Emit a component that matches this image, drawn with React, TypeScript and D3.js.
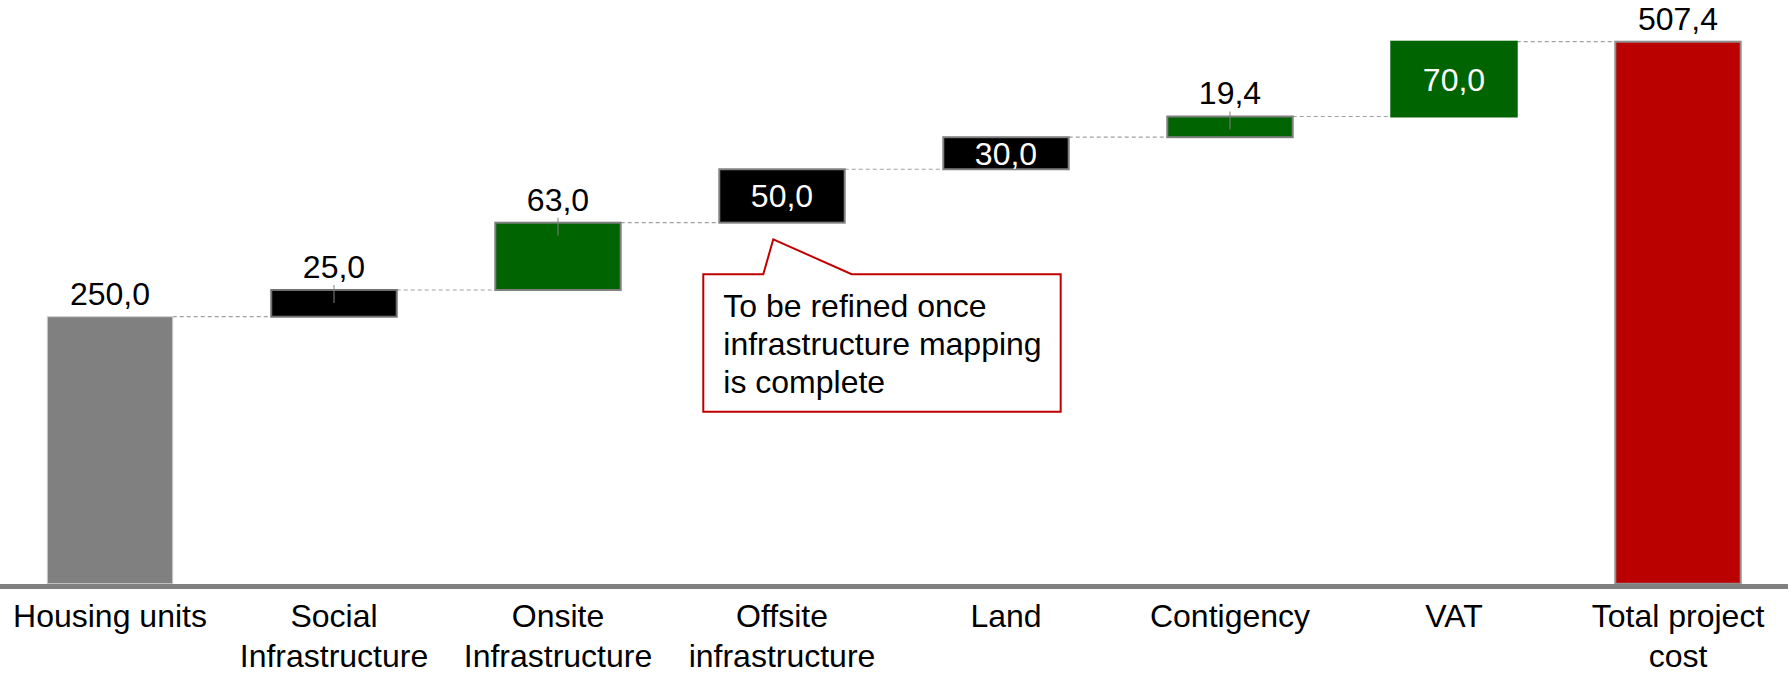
import React from "react";
import * as d3 from "d3";

const categories = [
  "Housing units",
  "Social\nInfrastructure",
  "Onsite\nInfrastructure",
  "Offsite\ninfrastructure",
  "Land",
  "Contigency",
  "VAT",
  "Total project\ncost",
];
const values = [250, 25, 63, 50, 30, 19.4, 70, 507.4];
const kinds = ["total", "delta", "delta", "delta", "delta", "delta", "delta", "total"];
const valueLabels = ["250,0", "25,0", "63,0", "50,0", "30,0", "19,4", "70,0", "507,4"];
const labelInside = [false, false, false, true, true, false, true, false];
const fills = ["#808080", "#000000", "#006400", "#000000", "#000000", "#006400", "#006400", "#BB0000"];
const strokes = ["#d0d0d0", "#707070", "#808080", "#808080", "#808080", "#808080", "#006400", "#909090"];
const calloutLines = ["To be refined once", "infrastructure mapping", "is complete"];
const calloutIndex = 3;

const W = 1792;
const H = 673;
const FONT = "'Liberation Sans', Arial, Helvetica, sans-serif";
const FS = 32;

export default function App() {
  const x = d3
    .scaleBand<string>()
    .domain(categories)
    .range([-2, 1790])
    .paddingInner(0.44)
    .paddingOuter(0.22);
  const baseline = 583.8;
  const y = d3.scaleLinear().domain([0, 507.4]).range([baseline, 41.7]);

  let cum = 0;
  const bars = values.map((v, i) => {
    let lo: number, hi: number;
    if (kinds[i] === "total") {
      lo = 0;
      hi = v;
      cum = v;
    } else {
      lo = cum;
      hi = cum + v;
      cum = hi;
    }
    return { i, lo, hi, cat: categories[i] };
  });

  const bw = x.bandwidth();

  const cb = bars[calloutIndex];
  const cbx = x(cb.cat)!;
  const tipX = cbx + 54;
  const tipY = y(cb.lo) + 16.6;
  const boxL = cbx - 16;
  const boxR = boxL + 357.4;
  const boxT = tipY + 35;
  const boxB = boxT + 137.4;
  const calloutPath = `M${boxL},${boxT} L${tipX - 10},${boxT} L${tipX},${tipY} L${tipX + 78.4},${boxT} L${boxR},${boxT} L${boxR},${boxB} L${boxL},${boxB} Z`;

  return (
    <div style={{ position: "absolute", left: 0, top: 0 }}>
      <svg width={W} height={H} style={{ display: "block", background: "#fff" }} fontFamily={FONT}>
        {bars.slice(0, -1).map((b, k) => {
          const next = bars[k + 1];
          const lvl = b.hi;
          return (
            <line
              key={"c" + k}
              x1={x(b.cat)! + bw}
              x2={x(next.cat)!}
              y1={y(lvl)}
              y2={y(lvl)}
              stroke="#a0a0a0"
              strokeWidth={1.2}
              strokeDasharray="4 3"
            />
          );
        })}
        {bars.map((b) => (
          <rect
            key={"b" + b.i}
            x={x(b.cat)!}
            y={y(b.hi)}
            width={bw}
            height={y(b.lo) - y(b.hi)}
            fill={fills[b.i]}
            stroke={strokes[b.i]}
            strokeWidth={b.i === 0 ? 1 : 2}
          />
        ))}
        {bars.map((b) =>
          kinds[b.i] === "delta" && !labelInside[b.i] ? (
            <line
              key={"t" + b.i}
              x1={x(b.cat)! + bw / 2}
              x2={x(b.cat)! + bw / 2}
              y1={y(b.hi) - 5}
              y2={y(b.hi) + 13}
              stroke="#808080"
              strokeWidth={1}
            />
          ) : null
        )}
        {bars.map((b) => {
          const cx = x(b.cat)! + bw / 2;
          if (labelInside[b.i]) {
            const cy = (y(b.hi) + y(b.lo)) / 2;
            return (
              <text key={"v" + b.i} x={cx} y={cy + FS * 0.36} textAnchor="middle" fontSize={FS} fill="#ffffff">
                {valueLabels[b.i]}
              </text>
            );
          }
          return (
            <text key={"v" + b.i} x={cx} y={y(b.hi) - 12} textAnchor="middle" fontSize={FS} fill="#000000">
              {valueLabels[b.i]}
            </text>
          );
        })}
        <line x1={0} x2={1788} y1={586.5} y2={586.5} stroke="#808080" strokeWidth={5} />
        {categories.map((c, i) => (
          <text key={"l" + i} x={x(c)! + bw / 2} textAnchor="middle" fontSize={FS} fill="#000000">
            {c.split("\n").map((ln, j) => (
              <tspan key={j} x={x(c)! + bw / 2} y={627.3 + j * 39.4}>
                {ln}
              </tspan>
            ))}
          </text>
        ))}
        <path d={calloutPath} fill="#ffffff" stroke="#C00000" strokeWidth={2} />
        <text fontSize={FS} fill="#000000">
          {calloutLines.map((ln, j) => (
            <tspan key={j} x={boxL + 20} y={boxT + 42.4 + j * 38.3}>
              {ln}
            </tspan>
          ))}
        </text>
      </svg>
    </div>
  );
}
